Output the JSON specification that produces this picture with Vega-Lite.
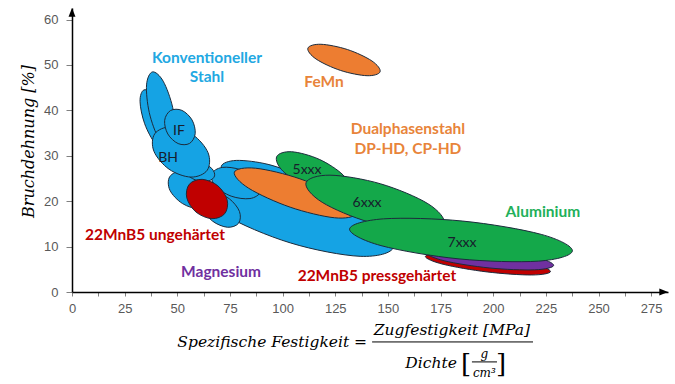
{
  "$schema": "https://vega.github.io/schema/vega-lite/v6.json",
  "width": 596,
  "height": 284,
  "autosize": {"type": "none"},
  "padding": {"left": 72, "top": 8, "right": 7, "bottom": 92},
  "background": "white",
  "config": {
    "view": {"stroke": null},
    "axis": {"grid": false, "domainColor": "#000000", "domainWidth": 1.5, "tickColor": "#808080", "labelColor": "#595959", "labelFont": "Liberation Sans", "labelFontSize": 13}
  },
  "datasets": {
    "ellipses": [
      {"id": "01", "grp": "blue", "i": 0, "x": 152.7, "y": 9.87},
      {"id": "01", "grp": "blue", "i": 1, "x": 136.8, "y": 7.86},
      {"id": "01", "grp": "blue", "i": 2, "x": 103.7, "y": 10.81},
      {"id": "01", "grp": "blue", "i": 3, "x": 72.6, "y": 16.96},
      {"id": "01", "grp": "blue", "i": 4, "x": 61.9, "y": 22.73},
      {"id": "01", "grp": "blue", "i": 5, "x": 77.8, "y": 24.74},
      {"id": "01", "grp": "blue", "i": 6, "x": 110.9, "y": 21.78},
      {"id": "01", "grp": "blue", "i": 7, "x": 142.0, "y": 15.64},
      {"id": "02", "grp": "blue", "i": 0, "x": 112.4, "y": 22.95},
      {"id": "02", "grp": "blue", "i": 1, "x": 105.3, "y": 21.68},
      {"id": "02", "grp": "blue", "i": 2, "x": 90.2, "y": 22.55},
      {"id": "02", "grp": "blue", "i": 3, "x": 75.9, "y": 25.05},
      {"id": "02", "grp": "blue", "i": 4, "x": 70.9, "y": 27.71},
      {"id": "02", "grp": "blue", "i": 5, "x": 78.0, "y": 28.98},
      {"id": "02", "grp": "blue", "i": 6, "x": 93.1, "y": 28.11},
      {"id": "02", "grp": "blue", "i": 7, "x": 107.3, "y": 25.61},
      {"id": "03", "grp": "blue", "i": 0, "x": 89.5, "y": 22.06},
      {"id": "03", "grp": "blue", "i": 1, "x": 84.5, "y": 20.58},
      {"id": "03", "grp": "blue", "i": 2, "x": 75.6, "y": 21.11},
      {"id": "03", "grp": "blue", "i": 3, "x": 68.1, "y": 23.34},
      {"id": "03", "grp": "blue", "i": 4, "x": 66.3, "y": 25.96},
      {"id": "03", "grp": "blue", "i": 5, "x": 71.3, "y": 27.44},
      {"id": "03", "grp": "blue", "i": 6, "x": 80.1, "y": 26.91},
      {"id": "03", "grp": "blue", "i": 7, "x": 87.7, "y": 24.68},
      {"id": "04", "grp": "blue", "i": 0, "x": 79.1, "y": 15.15},
      {"id": "04", "grp": "blue", "i": 1, "x": 73.8, "y": 14.26},
      {"id": "04", "grp": "blue", "i": 2, "x": 66.8, "y": 15.59},
      {"id": "04", "grp": "blue", "i": 3, "x": 62.0, "y": 18.37},
      {"id": "04", "grp": "blue", "i": 4, "x": 62.4, "y": 20.97},
      {"id": "04", "grp": "blue", "i": 5, "x": 67.7, "y": 21.86},
      {"id": "04", "grp": "blue", "i": 6, "x": 74.7, "y": 20.53},
      {"id": "04", "grp": "blue", "i": 7, "x": 79.5, "y": 17.75},
      {"id": "05", "grp": "blue", "i": 0, "x": 66.6, "y": 19.55},
      {"id": "05", "grp": "blue", "i": 1, "x": 60.8, "y": 18.28},
      {"id": "05", "grp": "blue", "i": 2, "x": 52.5, "y": 19.47},
      {"id": "05", "grp": "blue", "i": 3, "x": 46.5, "y": 22.41},
      {"id": "05", "grp": "blue", "i": 4, "x": 46.4, "y": 25.39},
      {"id": "05", "grp": "blue", "i": 5, "x": 52.2, "y": 26.65},
      {"id": "05", "grp": "blue", "i": 6, "x": 60.5, "y": 25.46},
      {"id": "05", "grp": "blue", "i": 7, "x": 66.5, "y": 22.52},
      {"id": "06", "grp": "blue", "i": 0, "x": 67.7, "y": 25.57},
      {"id": "06", "grp": "blue", "i": 1, "x": 64.9, "y": 24.46},
      {"id": "06", "grp": "blue", "i": 2, "x": 59.7, "y": 24.51},
      {"id": "06", "grp": "blue", "i": 3, "x": 55.1, "y": 25.68},
      {"id": "06", "grp": "blue", "i": 4, "x": 53.9, "y": 27.29},
      {"id": "06", "grp": "blue", "i": 5, "x": 56.7, "y": 28.40},
      {"id": "06", "grp": "blue", "i": 6, "x": 61.9, "y": 28.35},
      {"id": "06", "grp": "blue", "i": 7, "x": 66.4, "y": 27.19},
      {"id": "07", "grp": "blue", "i": 0, "x": 44.6, "y": 31.26},
      {"id": "07", "grp": "blue", "i": 1, "x": 39.6, "y": 32.62},
      {"id": "07", "grp": "blue", "i": 2, "x": 34.5, "y": 37.06},
      {"id": "07", "grp": "blue", "i": 3, "x": 32.3, "y": 41.99},
      {"id": "07", "grp": "blue", "i": 4, "x": 34.2, "y": 44.51},
      {"id": "07", "grp": "blue", "i": 5, "x": 39.2, "y": 43.15},
      {"id": "07", "grp": "blue", "i": 6, "x": 44.3, "y": 38.71},
      {"id": "07", "grp": "blue", "i": 7, "x": 46.5, "y": 33.78},
      {"id": "08", "grp": "blue", "i": 0, "x": 46.3, "y": 31.70},
      {"id": "08", "grp": "blue", "i": 1, "x": 41.2, "y": 33.75},
      {"id": "08", "grp": "blue", "i": 2, "x": 36.7, "y": 39.51},
      {"id": "08", "grp": "blue", "i": 3, "x": 35.4, "y": 45.61},
      {"id": "08", "grp": "blue", "i": 4, "x": 38.2, "y": 48.47},
      {"id": "08", "grp": "blue", "i": 5, "x": 43.3, "y": 46.43},
      {"id": "08", "grp": "blue", "i": 6, "x": 47.8, "y": 40.67},
      {"id": "08", "grp": "blue", "i": 7, "x": 49.1, "y": 34.57},
      {"id": "09", "grp": "blue", "i": 0, "x": 64.2, "y": 26.82},
      {"id": "09", "grp": "blue", "i": 1, "x": 56.5, "y": 25.31},
      {"id": "09", "grp": "blue", "i": 2, "x": 46.1, "y": 27.04},
      {"id": "09", "grp": "blue", "i": 3, "x": 38.9, "y": 31.00},
      {"id": "09", "grp": "blue", "i": 4, "x": 39.3, "y": 34.85},
      {"id": "09", "grp": "blue", "i": 5, "x": 47.0, "y": 36.36},
      {"id": "09", "grp": "blue", "i": 6, "x": 57.4, "y": 34.63},
      {"id": "09", "grp": "blue", "i": 7, "x": 64.6, "y": 30.68},
      {"id": "10", "grp": "blue", "i": 0, "x": 55.8, "y": 32.72},
      {"id": "10", "grp": "blue", "i": 1, "x": 50.4, "y": 32.69},
      {"id": "10", "grp": "blue", "i": 2, "x": 45.5, "y": 34.80},
      {"id": "10", "grp": "blue", "i": 3, "x": 44.0, "y": 37.81},
      {"id": "10", "grp": "blue", "i": 4, "x": 46.8, "y": 39.97},
      {"id": "10", "grp": "blue", "i": 5, "x": 52.2, "y": 40.00},
      {"id": "10", "grp": "blue", "i": 6, "x": 57.0, "y": 37.89},
      {"id": "10", "grp": "blue", "i": 7, "x": 58.5, "y": 34.87},
      {"id": "11", "grp": "red", "i": 0, "x": 72.5, "y": 17.24},
      {"id": "11", "grp": "red", "i": 1, "x": 66.4, "y": 16.15},
      {"id": "11", "grp": "red", "i": 2, "x": 58.9, "y": 17.60},
      {"id": "11", "grp": "red", "i": 3, "x": 54.5, "y": 20.74},
      {"id": "11", "grp": "red", "i": 4, "x": 55.7, "y": 23.73},
      {"id": "11", "grp": "red", "i": 5, "x": 61.8, "y": 24.81},
      {"id": "11", "grp": "red", "i": 6, "x": 69.3, "y": 23.37},
      {"id": "11", "grp": "red", "i": 7, "x": 73.7, "y": 20.23},
      {"id": "12", "grp": "green", "i": 0, "x": 131.7, "y": 22.60},
      {"id": "12", "grp": "green", "i": 1, "x": 124.6, "y": 21.53},
      {"id": "12", "grp": "green", "i": 2, "x": 111.5, "y": 23.20},
      {"id": "12", "grp": "green", "i": 3, "x": 100.1, "y": 26.64},
      {"id": "12", "grp": "green", "i": 4, "x": 97.2, "y": 29.82},
      {"id": "12", "grp": "green", "i": 5, "x": 104.3, "y": 30.89},
      {"id": "12", "grp": "green", "i": 6, "x": 117.4, "y": 29.22},
      {"id": "12", "grp": "green", "i": 7, "x": 128.7, "y": 25.78},
      {"id": "13", "grp": "orange", "i": 0, "x": 134.6, "y": 17.21},
      {"id": "13", "grp": "orange", "i": 1, "x": 124.6, "y": 16.35},
      {"id": "13", "grp": "orange", "i": 2, "x": 103.6, "y": 18.68},
      {"id": "13", "grp": "orange", "i": 3, "x": 83.9, "y": 22.85},
      {"id": "13", "grp": "orange", "i": 4, "x": 77.1, "y": 26.40},
      {"id": "13", "grp": "orange", "i": 5, "x": 87.2, "y": 27.26},
      {"id": "13", "grp": "orange", "i": 6, "x": 108.2, "y": 24.93},
      {"id": "13", "grp": "orange", "i": 7, "x": 127.9, "y": 20.77},
      {"id": "14", "grp": "green", "i": 0, "x": 176.7, "y": 15.16},
      {"id": "14", "grp": "green", "i": 1, "x": 165.2, "y": 13.47},
      {"id": "14", "grp": "green", "i": 2, "x": 141.2, "y": 15.37},
      {"id": "14", "grp": "green", "i": 3, "x": 118.8, "y": 19.75},
      {"id": "14", "grp": "green", "i": 4, "x": 111.1, "y": 24.04},
      {"id": "14", "grp": "green", "i": 5, "x": 122.5, "y": 25.73},
      {"id": "14", "grp": "green", "i": 6, "x": 146.5, "y": 23.83},
      {"id": "14", "grp": "green", "i": 7, "x": 169.0, "y": 19.45},
      {"id": "15", "grp": "red", "i": 0, "x": 227.2, "y": 4.50},
      {"id": "15", "grp": "red", "i": 1, "x": 218.2, "y": 3.75},
      {"id": "15", "grp": "red", "i": 2, "x": 197.1, "y": 4.42},
      {"id": "15", "grp": "red", "i": 3, "x": 176.2, "y": 6.11},
      {"id": "15", "grp": "red", "i": 4, "x": 167.8, "y": 7.83},
      {"id": "15", "grp": "red", "i": 5, "x": 176.8, "y": 8.58},
      {"id": "15", "grp": "red", "i": 6, "x": 198.0, "y": 7.92},
      {"id": "15", "grp": "red", "i": 7, "x": 218.9, "y": 6.23},
      {"id": "16", "grp": "purple", "i": 0, "x": 228.7, "y": 5.86},
      {"id": "16", "grp": "purple", "i": 1, "x": 219.6, "y": 4.88},
      {"id": "16", "grp": "purple", "i": 2, "x": 198.1, "y": 5.30},
      {"id": "16", "grp": "purple", "i": 3, "x": 176.8, "y": 6.87},
      {"id": "16", "grp": "purple", "i": 4, "x": 168.2, "y": 8.68},
      {"id": "16", "grp": "purple", "i": 5, "x": 177.4, "y": 9.66},
      {"id": "16", "grp": "purple", "i": 6, "x": 198.9, "y": 9.24},
      {"id": "16", "grp": "purple", "i": 7, "x": 220.2, "y": 7.67},
      {"id": "17", "grp": "green", "i": 0, "x": 237.6, "y": 9.04},
      {"id": "17", "grp": "green", "i": 1, "x": 221.5, "y": 6.80},
      {"id": "17", "grp": "green", "i": 2, "x": 183.8, "y": 7.29},
      {"id": "17", "grp": "green", "i": 3, "x": 146.7, "y": 10.22},
      {"id": "17", "grp": "green", "i": 4, "x": 131.8, "y": 13.87},
      {"id": "17", "grp": "green", "i": 5, "x": 147.9, "y": 16.11},
      {"id": "17", "grp": "green", "i": 6, "x": 185.6, "y": 15.62},
      {"id": "17", "grp": "green", "i": 7, "x": 222.8, "y": 12.69},
      {"id": "18", "grp": "orange", "i": 0, "x": 146.3, "y": 48.51},
      {"id": "18", "grp": "orange", "i": 1, "x": 140.1, "y": 47.64},
      {"id": "18", "grp": "orange", "i": 2, "x": 127.5, "y": 48.80},
      {"id": "18", "grp": "orange", "i": 3, "x": 115.9, "y": 51.31},
      {"id": "18", "grp": "orange", "i": 4, "x": 112.0, "y": 53.70},
      {"id": "18", "grp": "orange", "i": 5, "x": 118.2, "y": 54.56},
      {"id": "18", "grp": "orange", "i": 6, "x": 130.8, "y": 53.40},
      {"id": "18", "grp": "orange", "i": 7, "x": 142.4, "y": 50.89}
    ],
    "labels": [
      {"x": 64.1, "y": 51.5, "text": "Konventioneller", "c": "lblue"},
      {"x": 64.1, "y": 47.4, "text": "Stahl", "c": "lblue"},
      {"x": 119.7, "y": 46.3, "text": "FeMn", "c": "lorange"},
      {"x": 159.5, "y": 35.9, "text": "Dualphasenstahl", "c": "lorange"},
      {"x": 159.5, "y": 31.5, "text": "DP-HD, CP-HD", "c": "lorange"},
      {"x": 223.6, "y": 17.6, "text": "Aluminium", "c": "lgreen"},
      {"x": 39.4, "y": 12.6, "text": "22MnB5 ungehärtet", "c": "lred"},
      {"x": 70.8, "y": 4.4, "text": "Magnesium", "c": "lpurple"},
      {"x": 144.8, "y": 3.5, "text": "22MnB5 pressgehärtet", "c": "lred"}
    ],
    "inner": [
      {"x": 50.8, "y": 35.5, "text": "IF"},
      {"x": 45.6, "y": 29.5, "text": "BH"},
      {"x": 111.6, "y": 26.9, "text": "5xxx"},
      {"x": 140.1, "y": 19.6, "text": "6xxx"},
      {"x": 185.2, "y": 10.8, "text": "7xxx"}
    ],
    "formula": [
      {"x": 140.1, "y": -11.0, "text": "Spezifische Festigkeit =", "part": "lhs"},
      {"x": 180.4, "y": -8.4, "text": "Zugfestigkeit [MPa]", "part": "main"},
      {"x": 170.5, "y": -15.6, "text": "Dichte", "part": "main"},
      {"x": 187.1, "y": -16.0, "text": "[", "part": "big"},
      {"x": 203.7, "y": -16.0, "text": "]", "part": "big"},
      {"x": 195.8, "y": -13.7, "text": "g", "part": "small"},
      {"x": 195.8, "y": -17.9, "text": "cm³", "part": "small"}
    ],
    "bars": [
      {"x": 142.5, "x2": 218.9, "y": -11.0},
      {"x": 189.9, "x2": 201.8, "y": -15.4}
    ],
    "arrows": [
      {"x": 0, "y": 62.55, "dir": "up"},
      {"x": 283, "y": 0, "dir": "right"}
    ]
  },
  "encoding": {
    "x": {"field": "x", "type": "quantitative", "scale": {"domain": [0, 283], "nice": false, "zero": false},
          "axis": {"title": null, "values": [0, 12.5, 25, 37.5, 50, 62.5, 75, 87.5, 100, 112.5, 125, 137.5, 150, 162.5, 175, 187.5, 200, 212.5, 225, 237.5, 250, 262.5, 275], "labelExpr": "datum.value % 25 == 0 ? datum.label : ''", "tickSize": 4, "labelPadding": 6, "labelFlush": false, "labelOverlap": false}},
    "y": {"field": "y", "type": "quantitative", "scale": {"domain": [0, 62.55], "nice": false, "zero": false},
          "axis": {"title": "Bruchdehnung [%]", "values": [0, 10, 20, 30, 40, 50, 60], "tickSize": 6, "labelPadding": 8, "titleFont": "DejaVu Serif", "titleFontStyle": "italic", "titleFontWeight": "normal", "titleFontSize": 16, "titleColor": "#000000", "titleX": -36, "titleY": 133}}
  },
  "layer": [
    {
      "data": {"name": "ellipses"},
      "mark": {"type": "line", "interpolate": "cardinal-closed", "stroke": "#1c2b3c", "strokeWidth": 1, "fillOpacity": 1},
      "encoding": {
        "detail": {"field": "id", "type": "nominal"},
        "order": {"field": "i", "type": "quantitative"},
        "fill": {"field": "grp", "type": "nominal", "legend": null,
                 "scale": {"domain": ["blue", "orange", "green", "red", "purple"], "range": ["#15a3e4", "#ed7d31", "#14a84a", "#c00000", "#7030a0"]}}
      }
    },
    {
      "data": {"name": "labels"},
      "mark": {"type": "text", "font": "Lato", "fontWeight": "bold", "fontSize": 15.5, "align": "center", "baseline": "middle"},
      "encoding": {
        "text": {"field": "text"},
        "color": {"field": "c", "type": "nominal", "legend": null,
                  "scale": {"domain": ["lblue", "lorange", "lgreen", "lred", "lpurple"], "range": ["#22a8e2", "#e8843a", "#22b05a", "#c00000", "#7030a0"]}}
      }
    },
    {
      "data": {"name": "inner"},
      "mark": {"type": "text", "font": "Lato", "fontSize": 14, "align": "center", "baseline": "middle", "color": "#17202c"},
      "encoding": {"text": {"field": "text"}}
    },
    {
      "data": {"name": "formula"},
      "transform": [{"filter": "datum.part == 'lhs'"}],
      "mark": {"type": "text", "font": "DejaVu Serif", "fontStyle": "italic", "fontSize": 15.5, "align": "right", "baseline": "middle", "color": "#000000"},
      "encoding": {"text": {"field": "text"}}
    },
    {
      "data": {"name": "formula"},
      "transform": [{"filter": "datum.part == 'main'"}],
      "mark": {"type": "text", "font": "DejaVu Serif", "fontStyle": "italic", "fontSize": 15.5, "align": "center", "baseline": "middle", "color": "#000000"},
      "encoding": {"text": {"field": "text"}}
    },
    {
      "data": {"name": "formula"},
      "transform": [{"filter": "datum.part == 'big'"}],
      "mark": {"type": "text", "font": "DejaVu Serif", "fontSize": 26, "align": "center", "baseline": "middle", "color": "#000000"},
      "encoding": {"text": {"field": "text"}}
    },
    {
      "data": {"name": "formula"},
      "transform": [{"filter": "datum.part == 'small'"}],
      "mark": {"type": "text", "font": "DejaVu Serif", "fontStyle": "italic", "fontSize": 12, "align": "center", "baseline": "middle", "color": "#000000"},
      "encoding": {"text": {"field": "text"}}
    },
    {
      "data": {"name": "bars"},
      "mark": {"type": "rule", "color": "#000000", "strokeWidth": 1},
      "encoding": {"x2": {"field": "x2"}}
    },
    {
      "data": {"name": "arrows"},
      "mark": {"type": "point", "filled": true, "color": "#000000", "opacity": 1, "size": 300},
      "encoding": {
        "shape": {"field": "dir", "type": "nominal", "legend": null,
                  "scale": {"domain": ["up", "right"], "range": ["M0,0L-0.4,1L0.4,1Z", "M0,0L-1,-0.4L-1,0.4Z"]}}
      }
    }
  ]
}
